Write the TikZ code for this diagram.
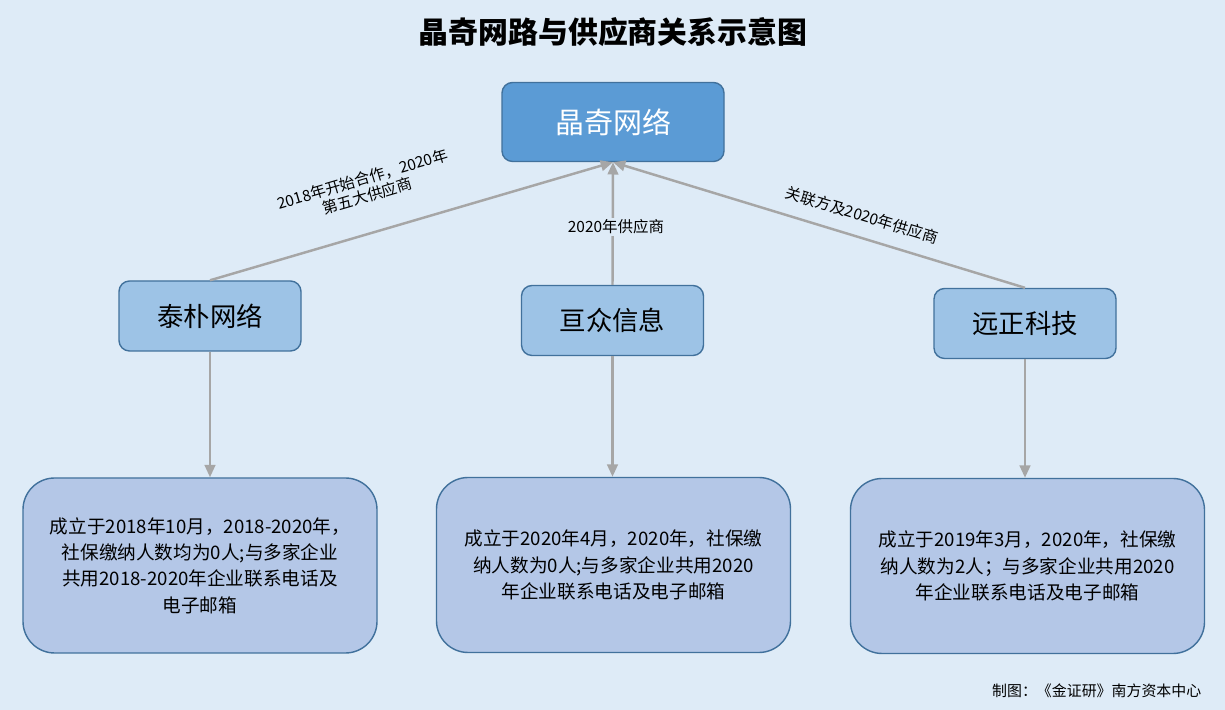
\documentclass[tikz,border=0pt]{standalone}
\usepackage{fontspec}
\setmainfont{Noto Sans CJK SC}
\usepackage{tikz}
\usetikzlibrary{arrows.meta, positioning, calc}
\definecolor{jqbg}{HTML}{DEEBF7}
\definecolor{jqtop}{HTML}{5B9BD5}
\definecolor{jqline}{HTML}{41719C}
\definecolor{jqmid}{HTML}{9DC3E6}
\definecolor{jqlow}{HTML}{B4C7E7}
\definecolor{jqgray}{HTML}{A6A6A6}

\begin{document}
\begin{tikzpicture}[
  box/.style={
    rectangle,
    rounded corners=6pt,
    draw=jqline,
    line width=0.8pt,
    fill=#1,
    align=center
  },
  firm/.style={
    box=jqmid,
    minimum width=3.64cm,
    minimum height=1.4cm,
    font=\fontsize{15}{18}\selectfont
  },
  info/.style={
    box=jqlow,
    rounded corners=18pt,
    minimum width=7.08cm,
    minimum height=3.5cm,
    font=\fontsize{10.6}{15}\selectfont
  },
  tag/.style={
    align=center,
    inner sep=1pt,
    font=\fontsize{8.8}{10}\selectfont
  },
  link/.style={
    -{Triangle[length=7pt, width=6pt]},
    jqgray,
    line width=1.4pt
  }
]
  \fill[jqbg] (0,0) rectangle (24.5,14.2);

  \node[font=\fontsize{17}{20}\selectfont\bfseries] (title) at (12.26,13.56) {晶奇网路与供应商关系示意图};

  \node[box=jqtop, minimum width=4.44cm, minimum height=1.58cm, text=white,
        font=\fontsize{16.5}{19}\selectfont] (jq) at (12.26,11.76) {晶奇网络};

  \node[firm] (taipu) at (4.2,7.88) {泰朴网络};
  \node[firm] (genzhong) at (12.25,7.79) {亘众信息};
  \node[firm] (yuanzheng) at (20.5,7.73) {远正科技};

  \node[info] (tpinfo) at (4.0,2.89) {成立于2018年10月，2018-2020年，\\社保缴纳人数均为0人;与多家企业\\共用2018-2020年企业联系电话及\\电子邮箱};
  \node[info] (gzinfo) at (12.27,2.9) {成立于2020年4月，2020年，社保缴\\纳人数为0人;与多家企业共用2020\\年企业联系电话及电子邮箱};
  \node[info] (yzinfo) at (20.55,2.88) {成立于2019年3月，2020年，社保缴\\纳人数为2人；与多家企业共用2020\\年企业联系电话及电子邮箱};

  \draw[link] (taipu.north) -- (jq.south);
  \draw[link] (genzhong.north) -- (jq.south);
  \draw[link] (yuanzheng.north) -- (jq.south);

  \node[tag, rotate=16.4] (tptag) at (7.3,10.45) {2018年开始合作，2020年\\第五大供应商};
  \node[tag, fill=jqbg] (gztag) at (12.32,9.66) {2020年供应商};
  \node[tag, rotate=-17] (yztag) at (17.24,9.9) {关联方及2020年供应商};

  \draw[link] (taipu.south) -- (taipu.south |- tpinfo.north);
  \draw[link] (genzhong.south) -- (genzhong.south |- gzinfo.north);
  \draw[link] (yuanzheng.south) -- (yuanzheng.south |- yzinfo.north);

  \node[font=\fontsize{8.5}{10}\selectfont, anchor=east] (credit) at (24.15,0.38) {制图：《金证研》南方资本中心};
\end{tikzpicture}
\end{document}
